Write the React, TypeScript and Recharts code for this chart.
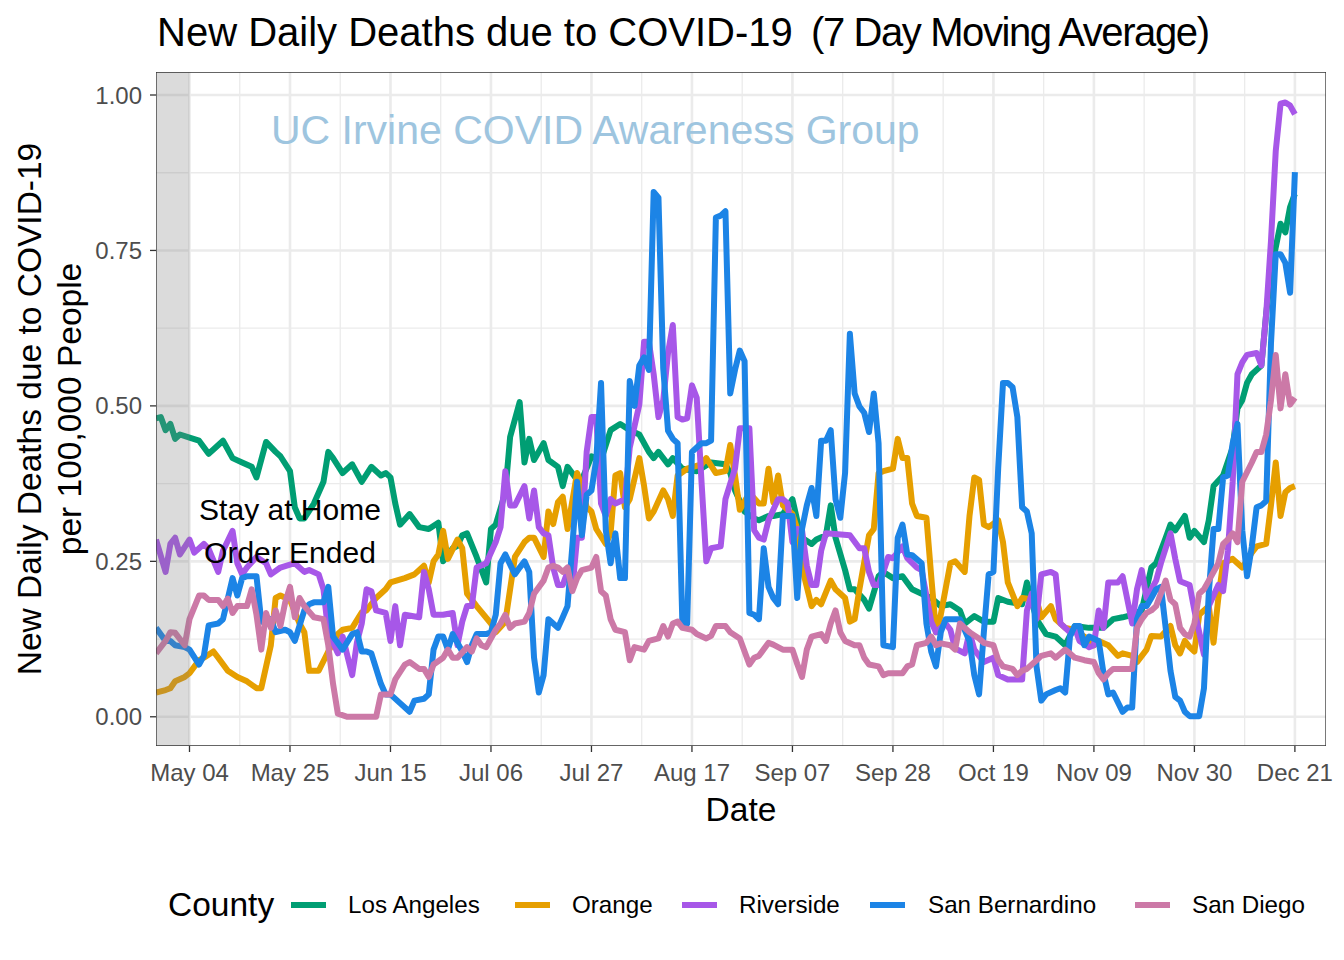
import React from "react";
import {
  LineChart,
  Line,
  XAxis,
  YAxis,
  CartesianGrid,
  ReferenceArea,
  ReferenceDot,
} from "recharts";

// Day 0 = May 04, 2020. Each pair is [day, deaths per 100,000 (7-day avg)].
const tickDays = [0, 21, 42, 63, 84, 105, 126, 147, 168, 189, 210, 231];
const tickLabels = [
  "May 04", "May 25", "Jun 15", "Jul 06", "Jul 27", "Aug 17",
  "Sep 07", "Sep 28", "Oct 19", "Nov 09", "Nov 30", "Dec 21",
];
const minorDays = [10.5, 31.5, 52.5, 73.5, 94.5, 115.5, 136.5, 157.5, 178.5, 199.5, 220.5];
const yTicks = [0, 0.25, 0.5, 0.75, 1];
const yMinor = [0.125, 0.375, 0.625, 0.875];

const losAngeles: [number, number][] = [
  [-7,0.48],[-6,0.482],[-5,0.461],[-4,0.471],[-3,0.447],[-2,0.454],[0,0.449],[2,0.444],[4,0.423],[5,0.43],
  [7,0.444],[9,0.416],[11,0.409],[13,0.402],[14,0.385],[16,0.442],[18,0.426],[19,0.419],[21,0.395],[22,0.337],
  [23,0.319],[24,0.319],[26,0.343],[28,0.378],[29,0.426],[30,0.416],[32,0.392],[34,0.406],[36,0.378],[38,0.402],
  [40,0.388],[41,0.392],[42,0.385],[43,0.343],[44,0.309],[46,0.326],[48,0.305],[50,0.302],[52,0.312],[53,0.25],
  [55,0.271],[56,0.275],[57,0.292],[58,0.295],[60,0.257],[62,0.216],[63,0.302],[64,0.309],[66,0.361],[67,0.45],
  [69,0.506],[70,0.409],[71,0.447],[72,0.413],[74,0.44],[75,0.413],[77,0.402],[78,0.371],[79,0.402],[81,0.381],
  [82,0.381],[84,0.419],[86,0.413],[88,0.461],[90,0.471],[92,0.461],[94,0.454],[96,0.426],[97,0.416],[98,0.426],
  [100,0.406],[101,0.416],[103,0.399],[106,0.395],[109,0.409],[112,0.406],[113,0.392],[114,0.364],[116,0.33],[118,0.319],
  [119,0.316],[121,0.323],[122,0.323],[124,0.326],[126,0.35],[127,0.316],[128,0.288],[130,0.278],[131,0.285],[133,0.292],
  [134,0.34],[135,0.288],[137,0.236],[138,0.205],[139,0.205],[141,0.188],[142,0.174],[144,0.226],[145,0.233],[147,0.223],
  [149,0.226],[151,0.205],[153,0.198],[155,0.191],[157,0.178],[159,0.181],[161,0.171],[162,0.15],[164,0.162],[166,0.153],
  [168,0.153],[169,0.191],[171,0.185],[174,0.181],[175,0.216],[177,0.157],[179,0.133],[181,0.129],[183,0.115],[185,0.146],
  [188,0.143],[191,0.143],[193,0.157],[195,0.16],[197,0.164],[199,0.171],[201,0.24],[202,0.247],[204,0.288],[205,0.309],
  [206,0.3],[208,0.323],[209,0.288],[210,0.299],[212,0.281],[213,0.316],[214,0.371],[216,0.388],[218,0.433],[219,0.496],
  [220,0.509],[221,0.537],[222,0.551],[224,0.565],[225,0.648],[226,0.717],[228,0.793],[229,0.779],[230,0.82],[231,0.841],
];

const orange: [number, number][] = [
  [-7,0.039],[-5,0.043],[-4,0.046],[-3,0.057],[-1,0.064],[0,0.07],[2,0.091],[3,0.095],[5,0.105],[6,0.095],
  [8,0.074],[10,0.064],[12,0.057],[14,0.046],[15,0.046],[17,0.115],[18,0.191],[19,0.195],[21,0.188],[23,0.15],
  [24,0.136],[25,0.074],[27,0.074],[29,0.105],[31,0.133],[32,0.14],[34,0.143],[36,0.168],[37,0.171],[39,0.191],
  [41,0.205],[42,0.216],[45,0.223],[47,0.229],[49,0.243],[50,0.216],[51,0.25],[52,0.261],[53,0.299],[54,0.254],
  [56,0.285],[57,0.271],[58,0.198],[59,0.188],[60,0.178],[63,0.15],[64,0.136],[66,0.153],[67,0.205],[68,0.257],
  [70,0.281],[71,0.288],[72,0.288],[74,0.257],[75,0.33],[76,0.31],[77,0.345],[78,0.354],[79,0.302],[81,0.392],
  [82,0.371],[83,0.337],[84,0.33],[85,0.302],[87,0.278],[88,0.295],[89,0.388],[90,0.392],[91,0.337],[92,0.35],
  [94,0.416],[95,0.371],[96,0.319],[97,0.33],[99,0.364],[100,0.35],[101,0.323],[102,0.388],[104,0.399],[107,0.406],
  [108,0.416],[110,0.392],[112,0.395],[113,0.437],[114,0.388],[115,0.333],[117,0.36],[119,0.343],[120,0.343],[121,0.399],
  [122,0.345],[123,0.388],[124,0.34],[126,0.326],[127,0.302],[128,0.24],[130,0.178],[131,0.188],[132,0.181],[134,0.219],
  [135,0.205],[137,0.191],[138,0.153],[139,0.157],[140,0.205],[142,0.292],[143,0.302],[144,0.392],[145,0.395],[147,0.399],
  [148,0.447],[149,0.416],[150,0.416],[151,0.343],[152,0.323],[154,0.32],[155,0.226],[156,0.136],[157,0.164],[159,0.247],
  [160,0.25],[162,0.233],[163,0.323],[164,0.385],[165,0.381],[166,0.309],[167,0.305],[169,0.316],[170,0.281],[171,0.216],
  [173,0.178],[174,0.191],[177,0.188],[178,0.16],[180,0.178],[181,0.157],[183,0.143],[185,0.14],[187,0.129],[189,0.115],
  [190,0.122],[192,0.115],[194,0.098],[195,0.102],[197,0.098],[198,0.088],[200,0.108],[201,0.13],[203,0.129],[205,0.146],
  [206,0.115],[207,0.102],[208,0.122],[209,0.112],[210,0.105],[211,0.164],[213,0.178],[214,0.119],[215,0.191],[216,0.247],
  [218,0.254],[219,0.247],[220,0.24],[222,0.264],[223,0.274],[225,0.278],[226,0.34],[227,0.409],[228,0.323],[229,0.361],
  [230,0.368],[231,0.371],
];

const riverside: [number, number][] = [
  [-7,0.285],[-5,0.233],[-4,0.278],[-3,0.288],[-2,0.261],[0,0.285],[1,0.264],[3,0.278],[4,0.27],[6,0.233],
  [7,0.267],[9,0.299],[10,0.247],[11,0.229],[12,0.24],[14,0.257],[16,0.247],[17,0.229],[19,0.24],[22,0.247],
  [24,0.233],[25,0.236],[27,0.229],[28,0.205],[29,0.136],[31,0.102],[32,0.129],[34,0.067],[35,0.12],[36,0.15],
  [37,0.205],[38,0.202],[39,0.171],[41,0.167],[42,0.122],[43,0.178],[44,0.115],[45,0.164],[48,0.16],[49,0.233],
  [50,0.205],[51,0.164],[53,0.164],[55,0.167],[56,0.115],[57,0.153],[58,0.178],[59,0.178],[60,0.24],[62,0.247],
  [64,0.281],[65,0.305],[66,0.395],[67,0.34],[68,0.34],[70,0.371],[71,0.319],[72,0.364],[73,0.305],[74,0.295],
  [75,0.292],[76,0.24],[77,0.212],[78,0.212],[79,0.233],[80,0.205],[81,0.288],[82,0.288],[83,0.426],[84,0.482],
  [85,0.482],[86,0.343],[87,0.323],[88,0.35],[89,0.343],[91,0.35],[92,0.433],[94,0.502],[95,0.603],[96,0.603],
  [97,0.551],[98,0.482],[99,0.509],[100,0.585],[101,0.63],[102,0.482],[103,0.478],[104,0.48],[105,0.533],[106,0.513],
  [107,0.378],[108,0.25],[109,0.271],[111,0.274],[112,0.35],[113,0.375],[114,0.399],[115,0.464],[117,0.464],[118,0.3],
  [119,0.288],[120,0.285],[121,0.316],[123,0.35],[124,0.35],[125,0.343],[126,0.281],[127,0.302],[128,0.3],[129,0.243],
  [130,0.212],[131,0.212],[132,0.267],[133,0.295],[138,0.292],[140,0.271],[141,0.271],[142,0.233],[143,0.212],[144,0.212],
  [145,0.233],[146,0.257],[147,0.255],[149,0.274],[150,0.255],[152,0.24],[153,0.236],[155,0.153],[156,0.136],[158,0.15],
  [159,0.14],[160,0.11],[162,0.102],[163,0.136],[164,0.108],[166,0.088],[168,0.095],[169,0.067],[171,0.06],[174,0.06],
  [175,0.171],[176,0.198],[177,0.157],[178,0.229],[180,0.233],[181,0.229],[182,0.15],[184,0.136],[185,0.143],[186,0.122],
  [188,0.112],[189,0.115],[190,0.171],[191,0.143],[192,0.216],[194,0.216],[195,0.226],[197,0.15],[198,0.205],[199,0.236],
  [200,0.191],[201,0.205],[202,0.219],[203,0.247],[205,0.295],[206,0.254],[207,0.218],[209,0.212],[210,0.171],[211,0.136],
  [212,0.1],[213,0.178],[214,0.195],[215,0.212],[216,0.202],[217,0.267],[218,0.378],[219,0.551],[220,0.57],[221,0.582],
  [223,0.585],[224,0.565],[225,0.648],[226,0.765],[227,0.91],[228,0.986],[229,0.988],[230,0.983],[231,0.969],
];

const sanBernardino: [number, number][] = [
  [-7,0.143],[-5,0.122],[-4,0.122],[-3,0.115],[-1,0.112],[0,0.108],[2,0.084],[3,0.098],[4,0.147],[6,0.15],
  [7,0.157],[9,0.223],[10,0.195],[11,0.223],[12,0.226],[14,0.226],[15,0.153],[17,0.157],[18,0.136],[20,0.14],
  [21,0.136],[22,0.122],[24,0.171],[25,0.181],[26,0.184],[28,0.184],[29,0.209],[30,0.129],[32,0.108],[34,0.133],
  [35,0.136],[36,0.105],[37,0.105],[38,0.102],[40,0.053],[41,0.036],[42,0.036],[44,0.022],[46,0.008],[47,0.026],
  [49,0.029],[50,0.036],[51,0.108],[52,0.129],[53,0.129],[54,0.108],[55,0.133],[57,0.105],[58,0.088],[59,0.115],
  [60,0.133],[62,0.133],[63,0.136],[64,0.164],[65,0.247],[66,0.261],[68,0.229],[69,0.24],[70,0.25],[71,0.233],
  [72,0.095],[73,0.039],[74,0.067],[75,0.157],[76,0.15],[77,0.143],[78,0.16],[79,0.178],[80,0.274],[81,0.378],
  [82,0.292],[83,0.357],[84,0.364],[85,0.413],[86,0.537],[87,0.3],[88,0.247],[89,0.295],[90,0.223],[91,0.223],
  [92,0.54],[93,0.5],[94,0.565],[95,0.578],[96,0.558],[97,0.844],[98,0.835],[99,0.56],[100,0.46],[101,0.447],
  [102,0.44],[103,0.15],[104,0.15],[105,0.426],[106,0.433],[107,0.44],[108,0.44],[109,0.444],[110,0.803],[111,0.806],
  [112,0.813],[113,0.52],[114,0.558],[115,0.589],[116,0.572],[117,0.167],[118,0.164],[119,0.157],[120,0.271],[121,0.209],
  [122,0.191],[123,0.181],[124,0.323],[126,0.323],[127,0.191],[128,0.302],[129,0.34],[130,0.368],[131,0.323],[132,0.444],
  [133,0.444],[134,0.461],[135,0.35],[136,0.32],[137,0.392],[138,0.616],[139,0.52],[140,0.499],[141,0.489],[142,0.458],
  [143,0.52],[144,0.44],[145,0.115],[147,0.112],[148,0.288],[149,0.309],[150,0.261],[151,0.26],[153,0.247],[154,0.15],
  [155,0.105],[156,0.081],[157,0.136],[158,0.157],[161,0.157],[163,0.122],[164,0.067],[165,0.036],[166,0.136],[167,0.229],
  [168,0.233],[169,0.4],[170,0.537],[171,0.537],[172,0.53],[173,0.482],[174,0.337],[175,0.33],[176,0.295],[177,0.081],
  [178,0.026],[179,0.036],[181,0.043],[182,0.046],[183,0.039],[184,0.129],[185,0.146],[186,0.146],[187,0.115],[188,0.129],
  [190,0.122],[191,0.07],[192,0.036],[193,0.039],[195,0.008],[196,0.015],[197,0.015],[198,0.157],[199,0.178],[200,0.178],
  [201,0.191],[202,0.205],[203,0.209],[204,0.143],[205,0.074],[206,0.032],[207,0.026],[208,0.008],[209,0.001],[211,0.001],
  [212,0.046],[213,0.198],[214,0.302],[215,0.302],[216,0.385],[217,0.388],[218,0.44],[219,0.471],[220,0.3],[221,0.226],
  [222,0.274],[223,0.337],[224,0.34],[225,0.347],[226,0.6],[227,0.744],[228,0.744],[229,0.73],[230,0.682],[231,0.876],
];

const sanDiego: [number, number][] = [
  [-7,0.102],[-5,0.122],[-4,0.136],[-3,0.135],[-1,0.115],[0,0.157],[2,0.195],[3,0.195],[4,0.188],[6,0.188],
  [7,0.178],[8,0.19],[9,0.167],[10,0.178],[12,0.178],[13,0.205],[14,0.164],[15,0.108],[16,0.167],[17,0.143],
  [18,0.171],[19,0.146],[20,0.184],[21,0.209],[22,0.16],[23,0.191],[24,0.178],[26,0.16],[28,0.157],[29,0.115],
  [30,0.053],[31,0.005],[33,0],[36,0],[39,0],[40,0.036],[42,0.036],[43,0.06],[45,0.084],[46,0.088],
  [48,0.077],[49,0.077],[50,0.064],[51,0.084],[53,0.095],[54,0.108],[55,0.095],[56,0.095],[58,0.112],[59,0.105],
  [60,0.126],[61,0.115],[62,0.112],[64,0.14],[65,0.15],[66,0.164],[67,0.143],[68,0.15],[70,0.153],[71,0.167],
  [72,0.198],[74,0.219],[75,0.24],[76,0.243],[77,0.24],[78,0.233],[79,0.24],[80,0.202],[81,0.223],[82,0.236],
  [84,0.24],[85,0.257],[86,0.202],[87,0.195],[88,0.157],[89,0.14],[91,0.136],[92,0.091],[93,0.112],[95,0.108],
  [96,0.122],[98,0.126],[99,0.146],[100,0.129],[101,0.15],[102,0.153],[103,0.143],[105,0.14],[106,0.133],[108,0.126],
  [109,0.13],[110,0.146],[112,0.146],[113,0.136],[115,0.126],[117,0.084],[118,0.095],[119,0.098],[121,0.119],[122,0.116],
  [124,0.108],[126,0.108],[127,0.085],[128,0.064],[129,0.108],[130,0.129],[132,0.133],[133,0.122],[134,0.15],[135,0.171],
  [136,0.136],[137,0.122],[139,0.115],[140,0.115],[141,0.095],[142,0.084],[144,0.081],[145,0.067],[146,0.07],[149,0.07],
  [150,0.081],[151,0.084],[152,0.115],[154,0.119],[155,0.129],[156,0.115],[157,0.118],[159,0.115],[160,0.108],[161,0.15],
  [163,0.136],[165,0.126],[166,0.119],[168,0.115],[169,0.091],[170,0.081],[172,0.077],[173,0.067],[174,0.074],[175,0.077],
  [177,0.091],[178,0.098],[180,0.102],[181,0.095],[183,0.108],[184,0.102],[185,0.095],[187,0.091],[189,0.088],[190,0.07],
  [191,0.06],[192,0.07],[193,0.077],[197,0.077],[198,0.143],[199,0.157],[200,0.167],[201,0.171],[202,0.178],[204,0.219],
  [205,0.188],[206,0.181],[207,0.143],[208,0.133],[209,0.129],[210,0.15],[211,0.198],[212,0.205],[213,0.219],[215,0.247],
  [216,0.278],[217,0.285],[218,0.295],[219,0.281],[220,0.378],[222,0.409],[223,0.426],[224,0.426],[225,0.454],[226,0.509],
  [227,0.582],[228,0.496],[229,0.551],[230,0.502],[231,0.513],
];

const seriesNames = ["Los Angeles", "Orange", "Riverside", "San Bernardino", "San Diego"];
const seriesValues = [losAngeles, orange, riverside, sanBernardino, sanDiego];
const seriesColors = ["#009E73", "#E69F00", "#A757E8", "#1C84E6", "#CC79A7"];

const FONT = "'Liberation Sans', Arial, Helvetica, sans-serif";
const xDomain: [number, number] = [-7, 237.5];
const yDomain: [number, number] = [-0.047, 1.037];

const toRows = (pairs: [number, number][]) => pairs.map(([day, v]) => ({ day, v }));

const AnnotationLabel = (props: any) => {
  const vb = props.viewBox || {};
  const cx = (vb.x || 0) + (vb.width || 0) / 2;
  const cy = (vb.y || 0) + (vb.height || 0) / 2;
  return (
    <text x={cx} textAnchor="middle" fontSize={30} fontFamily={FONT} fill="#000">
      <tspan x={cx} y={cy - 21.5} dominantBaseline="central">Stay at Home</tspan>
      <tspan x={cx} y={cy + 21.5} dominantBaseline="central">Order Ended</tspan>
    </text>
  );
};

const WatermarkLabel = (props: any) => {
  const vb = props.viewBox || {};
  const cx = (vb.x || 0) + (vb.width || 0) / 2;
  const cy = (vb.y || 0) + (vb.height || 0) / 2;
  return (
    <text x={cx} y={cy} textAnchor="middle" dominantBaseline="central" fontSize={41} fontFamily={FONT} fill="#9EC5DF">
      UC Irvine COVID Awareness Group
    </text>
  );
};

export default function App() {
  return (
    <div style={{ position: "absolute", left: 0, top: 0, width: 1344, height: 960, background: "#fff", fontFamily: FONT }}>
      <div style={{ position: "absolute", left: 157, top: 10, fontSize: 40, lineHeight: "44px", whiteSpace: "pre", color: "#000" }}>
        New Daily Deaths due to COVID-19
      </div>
      <div style={{ position: "absolute", left: 811, top: 10, fontSize: 40, lineHeight: "44px", whiteSpace: "pre", letterSpacing: "-1.4px", color: "#000" }}>
        (7 Day Moving Average)
      </div>
      <LineChart width={1344} height={960} margin={{ top: 72, right: 18, bottom: 154, left: 96 }}>
        <CartesianGrid horizontalValues={yMinor} verticalValues={minorDays} stroke="#EBEBEB" strokeWidth={1.3} />
        <CartesianGrid horizontalValues={yTicks} verticalValues={tickDays} stroke="#EBEBEB" strokeWidth={2.6} />
        <XAxis
          dataKey="day"
          type="number"
          domain={xDomain}
          allowDataOverflow
          ticks={tickDays}
          tickFormatter={(d: number) => tickLabels[tickDays.indexOf(d)] ?? ""}
          height={60}
          axisLine={false}
          tickLine={{ stroke: "#333333", strokeWidth: 1.3 }}
          tickSize={6}
          tickMargin={12}
          tick={{ fontSize: 24, fill: "#4D4D4D", fontFamily: FONT }}
          interval={0}
        />
        <YAxis
          type="number"
          domain={yDomain}
          allowDataOverflow
          ticks={yTicks}
          tickFormatter={(v: number) => v.toFixed(2)}
          width={60}
          axisLine={false}
          tickLine={{ stroke: "#333333", strokeWidth: 1.3 }}
          tickSize={6}
          tickMargin={8}
          tick={{ fontSize: 24, fill: "#4D4D4D", fontFamily: FONT }}
          interval={0}
        />
        {seriesValues.map((vals, i) => (
          <Line
            key={seriesNames[i]}
            name={seriesNames[i]}
            data={toRows(vals)}
            dataKey="v"
            type="linear"
            stroke={seriesColors[i]}
            strokeWidth={6}
            strokeLinejoin="round"
            dot={false}
            activeDot={false}
            isAnimationActive={false}
          />
        ))}
        <ReferenceArea x1={xDomain[0]} x2={0} y1={yDomain[0]} y2={yDomain[1]} fill="#7F7F7F" fillOpacity={0.28} stroke="none" ifOverflow="hidden" zIndex={1000} />
        <ReferenceDot x={21} y={0.299} r={1} fill="none" stroke="none" label={<AnnotationLabel />} zIndex={1100} />
        <ReferenceDot x={84.8} y={0.944} r={1} fill="none" stroke="none" label={<WatermarkLabel />} zIndex={1100} />
        <ReferenceArea x1={xDomain[0]} x2={xDomain[1]} y1={yDomain[0]} y2={yDomain[1]} fill="none" stroke="#333333" strokeWidth={1.3} ifOverflow="hidden" zIndex={1200} />
      </LineChart>
      <div style={{ position: "absolute", left: 30, top: 409, transform: "translate(-50%, -50%) rotate(-90deg)", fontSize: 33.5, whiteSpace: "nowrap", textAlign: "center", lineHeight: "40px", color: "#000" }}>
        New Daily Deaths due to COVID-19
      </div>
      <div style={{ position: "absolute", left: 70, top: 409, transform: "translate(-50%, -50%) rotate(-90deg)", fontSize: 33.5, whiteSpace: "nowrap", textAlign: "center", lineHeight: "40px", color: "#000" }}>
        per 100,000 People
      </div>
      <div style={{ position: "absolute", left: 741, top: 810, transform: "translate(-50%, -50%)", fontSize: 33.5, whiteSpace: "nowrap", color: "#000" }}>
        Date
      </div>
      <div style={{ position: "absolute", left: 168, top: 905, transform: "translateY(-50%)", fontSize: 33.5, whiteSpace: "nowrap", color: "#000" }}>
        County
      </div>
      {seriesNames.map((name, i) => {
        const keyLefts = [291, 515, 682, 870, 1135];
        const labelLefts = [348, 572, 739, 928, 1192];
        return (
          <React.Fragment key={name}>
            <div style={{ position: "absolute", left: keyLefts[i], top: 902, width: 35, height: 6, background: seriesColors[i] }} />
            <div style={{ position: "absolute", left: labelLefts[i], top: 905, transform: "translateY(-50%)", fontSize: 24.2, whiteSpace: "nowrap", color: "#000" }}>
              {name}
            </div>
          </React.Fragment>
        );
      })}
    </div>
  );
}
